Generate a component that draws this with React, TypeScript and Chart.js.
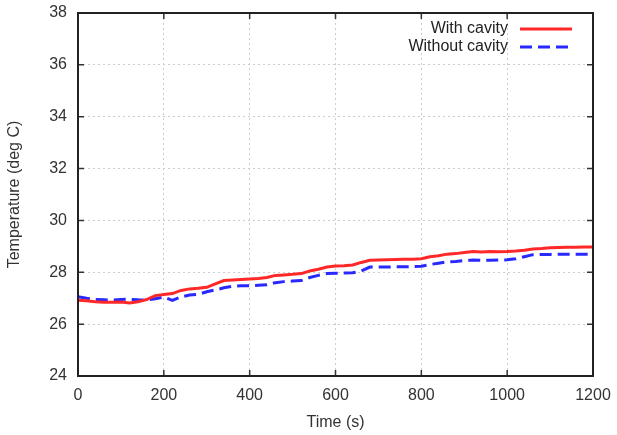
import React, { useEffect, useRef } from "react";
import { Chart, registerables } from "chart.js";

Chart.register(...registerables);

const timeS = [
  0, 20, 40, 60, 80, 100, 120, 140, 160, 180, 200, 220, 240, 260, 280, 300, 320, 340, 360, 380,
  400, 420, 440, 460, 480, 500, 520, 540, 560, 580, 600, 620, 640, 660, 680, 700, 720, 740, 760, 780,
  800, 820, 840, 860, 880, 900, 920, 940, 960, 980, 1000, 1020, 1040, 1060, 1080, 1100, 1120, 1140, 1160, 1180, 1200,
];

const withCavity = [
  26.92, 26.9, 26.86, 26.84, 26.84, 26.85, 26.82, 26.86, 26.95, 27.1, 27.14, 27.18, 27.3, 27.36, 27.38, 27.42, 27.55, 27.68, 27.7, 27.72,
  27.74, 27.76, 27.8, 27.88, 27.9, 27.92, 27.95, 28.05, 28.12, 28.2, 28.24, 28.25, 28.28, 28.38, 28.46, 28.47, 28.48, 28.49, 28.5, 28.5,
  28.52, 28.6, 28.64, 28.7, 28.72, 28.76, 28.8, 28.78, 28.8, 28.79, 28.8, 28.82, 28.85, 28.9, 28.92, 28.95, 28.96, 28.97, 28.97, 28.98, 28.98,
];

const withoutCavity = [
  27.06, 27.0, 26.95, 26.94, 26.93, 26.95, 26.96, 26.94, 26.93, 26.98, 27.04, 26.92, 27.05, 27.12, 27.15, 27.25, 27.32, 27.4, 27.46, 27.48,
  27.48, 27.5, 27.52, 27.6, 27.64, 27.66, 27.68, 27.8, 27.88, 27.95, 27.96, 27.97, 27.98, 28.05, 28.2, 28.2, 28.2, 28.21, 28.21, 28.22,
  28.23, 28.3, 28.35, 28.4, 28.42, 28.45, 28.47, 28.46, 28.46, 28.47, 28.48, 28.52, 28.6, 28.68, 28.69, 28.69, 28.7, 28.7, 28.7, 28.7, 28.7,
];

const seriesLabels = ["With cavity", "Without cavity"];
const xTitle = "Time (s)";
const yTitle = "Temperature (deg C)";

const FONT = "'Liberation Sans', Arial, sans-serif";
const RED = "rgb(255,40,40)";
const BLUE = "rgb(40,40,255)";

export default function App() {
  const ref = useRef<HTMLCanvasElement | null>(null);

  useEffect(() => {
    document.body.style.margin = "0";
    const canvas = ref.current;
    if (!canvas) return;

    const framePlugin = {
      id: "frame",
      afterDatasetsDraw(chart: any) {
        const { ctx, chartArea: a, scales } = chart;
        ctx.save();
        ctx.strokeStyle = "#333";
        ctx.lineWidth = 1.5;
        const tl = 6;
        const xs = scales.x;
        const ys = scales.y;
        ctx.beginPath();
        xs.ticks.forEach((t: any) => {
          const px = xs.getPixelForValue(t.value);
          ctx.moveTo(px, a.bottom);
          ctx.lineTo(px, a.bottom - tl);
          ctx.moveTo(px, a.top);
          ctx.lineTo(px, a.top + tl);
        });
        ys.ticks.forEach((t: any) => {
          const py = ys.getPixelForValue(t.value);
          ctx.moveTo(a.left, py);
          ctx.lineTo(a.left + tl, py);
          ctx.moveTo(a.right, py);
          ctx.lineTo(a.right - tl, py);
        });
        ctx.stroke();
        ctx.lineWidth = 2;
        ctx.strokeStyle = "#222";
        ctx.strokeRect(a.left, a.top, a.right - a.left, a.bottom - a.top);

        ctx.font = `16px ${FONT}`;
        ctx.fillStyle = "#222";
        ctx.textAlign = "right";
        ctx.textBaseline = "middle";
        const textRight = a.right - 85;
        const lineX0 = a.right - 73;
        const lineX1 = a.right - 21;
        const rows = [
          { label: seriesLabels[0], color: RED, dash: [] as number[], y: a.top + 16 },
          { label: seriesLabels[1], color: BLUE, dash: [12, 6], y: a.top + 34 },
        ];
        rows.forEach((r) => {
          ctx.fillText(r.label, textRight, r.y);
          ctx.beginPath();
          ctx.setLineDash(r.dash);
          ctx.strokeStyle = r.color;
          ctx.lineWidth = 3;
          ctx.moveTo(lineX0, r.y);
          ctx.lineTo(lineX1, r.y);
          ctx.stroke();
        });
        ctx.setLineDash([]);
        ctx.restore();
      },
    };

    const chart = new Chart(canvas, {
      type: "line",
      data: {
        datasets: [
          {
            label: seriesLabels[0],
            data: timeS.map((t, i) => ({ x: t, y: withCavity[i] })),
            borderColor: RED,
            borderWidth: 3,
            pointRadius: 0,
            tension: 0,
          },
          {
            label: seriesLabels[1],
            data: timeS.map((t, i) => ({ x: t, y: withoutCavity[i] })),
            borderColor: BLUE,
            borderWidth: 3,
            borderDash: [12, 6],
            pointRadius: 0,
            tension: 0,
          },
        ],
      },
      options: {
        responsive: false,
        animation: false,
        layout: { padding: { left: 0, right: 24, top: 13, bottom: 0 } },
        plugins: {
          legend: { display: false },
          tooltip: { enabled: false },
        },
        scales: {
          x: {
            type: "linear",
            min: 0,
            max: 1200,
            ticks: {
              stepSize: 200,
              color: "#333",
              font: { family: FONT, size: 16 },
              padding: 10,
              maxRotation: 0,
              callback: (v: any) => String(v),
            },
            grid: { color: "#cccccc", drawTicks: false, lineWidth: 1 },
            border: { display: false, dash: [2, 3] },
            title: { display: true, text: xTitle, color: "#333", font: { family: FONT, size: 16 }, padding: { top: 0, bottom: 3 } },
            afterFit(scale: any) {
              scale.height = 59;
              scale.paddingLeft = 0;
              scale.paddingRight = 0;
            },
          },
          y: {
            min: 24,
            max: 38,
            ticks: { stepSize: 2, color: "#333", font: { family: FONT, size: 16 }, padding: 11, callback: (v: any) => String(v) },
            grid: { color: "#cccccc", drawTicks: false, lineWidth: 1 },
            border: { display: false, dash: [2, 3] },
            title: { display: true, text: yTitle, color: "#333", font: { family: FONT, size: 16 }, padding: { top: 5, bottom: 0 } },
            afterFit(scale: any) {
              scale.width = 78;
              scale.paddingTop = 0;
              scale.paddingBottom = 0;
            },
          },
        },
      },
      plugins: [framePlugin],
    });

    return () => chart.destroy();
  }, []);

  return <canvas ref={ref} width={617} height={435} style={{ display: "block" }} />;
}
